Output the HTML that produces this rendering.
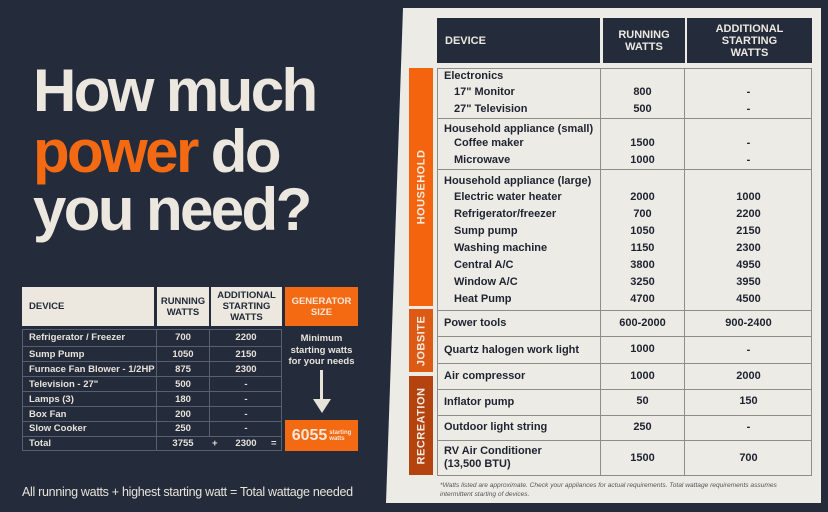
<!DOCTYPE html>
<html><head><meta charset="utf-8"><style>
*{margin:0;padding:0;box-sizing:border-box}
body{width:828px;height:512px;background:#242c3c;position:relative;overflow:hidden;font-family:"Liberation Sans",sans-serif}
.a{position:absolute}
.title{left:33px;font-size:60px;font-weight:bold;color:#ece8df;letter-spacing:-2.6px;line-height:60px}
.panel{left:380px;top:8px;width:441px;height:495px;background:#edebe5;clip-path:polygon(23px 0,441px 0,441px 495px,6px 495px)}
.rh{background:#242c3c;color:#ece8df;font-weight:bold;font-size:11px;display:flex;align-items:center;justify-content:center;text-align:center;line-height:12px}
.t{font-size:11px;font-weight:bold;color:#1e2330;white-space:nowrap}
.c{text-align:center}
.side{color:#f1e9de;font-weight:bold;font-size:11px;display:flex;align-items:center;justify-content:center}
.side span{transform:rotate(-90deg);white-space:nowrap;letter-spacing:.5px}
.lh{background:#ece8df;color:#222a38;font-weight:bold;font-size:9.5px;display:flex;align-items:center;justify-content:center;text-align:center;line-height:11px}
.lt{font-size:9.5px;font-weight:bold;color:#e7e3da;white-space:nowrap}
</style></head><body>
<div class="a title" style="top:61px">How much</div>
<div class="a title" style="top:122px"><span style="color:#f46a12">power</span> do</div>
<div class="a title" style="top:180px">you need?</div>

<!-- left table -->
<div class="a lh" style="left:22px;top:287px;width:132px;height:39px;justify-content:flex-start;padding-left:7px">DEVICE</div>
<div class="a lh" style="left:157px;top:287px;width:52px;height:39px">RUNNING<br>WATTS</div>
<div class="a lh" style="left:211px;top:287px;width:71px;height:39px">ADDITIONAL<br>STARTING<br>WATTS</div>
<div class="a lh" style="left:285px;top:287px;width:73px;height:39px;background:#f46a12;color:#f6e7da">GENERATOR<br>SIZE</div>
<div class="a" style="left:22px;top:329px;width:260px;height:122px;border:1px solid #56606f"></div>
<div class="a" style="left:156px;top:329px;width:1px;height:122px;background:#56606f"></div>
<div class="a" style="left:209px;top:329px;width:1px;height:107px;background:#56606f"></div>
<div class="a" style="left:22px;top:346px;width:260px;height:1px;background:#56606f"></div>
<div class="a" style="left:22px;top:361px;width:260px;height:1px;background:#56606f"></div>
<div class="a" style="left:22px;top:376px;width:260px;height:1px;background:#56606f"></div>
<div class="a" style="left:22px;top:391px;width:260px;height:1px;background:#56606f"></div>
<div class="a" style="left:22px;top:406px;width:260px;height:1px;background:#56606f"></div>
<div class="a" style="left:22px;top:421px;width:260px;height:1px;background:#56606f"></div>
<div class="a" style="left:22px;top:436px;width:260px;height:1px;background:#56606f"></div>
<div class="a lt" style="left:29px;top:332px">Refrigerator / Freezer</div><div class="a lt c" style="left:157px;width:52px;top:332px">700</div><div class="a lt c" style="left:210px;width:72px;top:332px">2200</div>
<div class="a lt" style="left:29px;top:349px">Sump Pump</div><div class="a lt c" style="left:157px;width:52px;top:349px">1050</div><div class="a lt c" style="left:210px;width:72px;top:349px">2150</div>
<div class="a lt" style="left:29px;top:364px">Furnace Fan Blower - 1/2HP</div><div class="a lt c" style="left:157px;width:52px;top:364px">875</div><div class="a lt c" style="left:210px;width:72px;top:364px">2300</div>
<div class="a lt" style="left:29px;top:379px">Television - 27"</div><div class="a lt c" style="left:157px;width:52px;top:379px">500</div><div class="a lt c" style="left:210px;width:72px;top:379px">-</div>
<div class="a lt" style="left:29px;top:394px">Lamps (3)</div><div class="a lt c" style="left:157px;width:52px;top:394px">180</div><div class="a lt c" style="left:210px;width:72px;top:394px">-</div>
<div class="a lt" style="left:29px;top:409px">Box Fan</div><div class="a lt c" style="left:157px;width:52px;top:409px">200</div><div class="a lt c" style="left:210px;width:72px;top:409px">-</div>
<div class="a lt" style="left:29px;top:423px">Slow Cooker</div><div class="a lt c" style="left:157px;width:52px;top:423px">250</div><div class="a lt c" style="left:210px;width:72px;top:423px">-</div>
<div class="a lt" style="left:29px;top:438px">Total</div><div class="a lt c" style="left:157px;width:52px;top:438px">3755</div><div class="a lt" style="left:212px;top:438px">+</div><div class="a lt c" style="left:210px;width:72px;top:438px">2300</div><div class="a lt" style="left:271px;top:438px">=</div>
<div class="a lt c" style="left:285px;width:73px;top:333px;line-height:11.5px;font-weight:bold;font-size:9.5px">Minimum<br>starting watts<br>for your needs</div>
<div class="a" style="left:320px;top:370px;width:3px;height:30px;background:#e7e3da"></div>
<div class="a" style="left:313px;top:399px;width:0;height:0;border-left:9px solid transparent;border-right:9px solid transparent;border-top:14px solid #e7e3da"></div>
<div class="a" style="left:285px;top:420px;width:73px;height:31px;background:#f46a12;color:#f6e7da;display:flex;align-items:center;justify-content:center;gap:2px"><b style="font-size:16px">6055</b><span style="font-size:6px;line-height:6px;font-weight:bold">starting<br>watts</span></div>
<div class="a" style="left:22px;top:485px;font-size:12.5px;color:#e7e3da;letter-spacing:-.3px">All running watts + highest starting watt = Total wattage needed</div>

<!-- right panel -->
<div class="a panel"></div>
<div class="a rh" style="left:437px;top:18px;width:163px;height:45px;justify-content:flex-start;padding-left:8px">DEVICE</div>
<div class="a rh" style="left:603px;top:18px;width:82px;height:45px">RUNNING<br>WATTS</div>
<div class="a rh" style="left:687px;top:18px;width:125px;height:45px">ADDITIONAL<br>STARTING<br>WATTS</div>

<div class="a side" style="left:409px;top:68px;width:24px;height:238px;background:#f4640f"><span>HOUSEHOLD</span></div>
<div class="a side" style="left:409px;top:309px;width:24px;height:63px;background:#dd5a14"><span>JOBSITE</span></div>
<div class="a side" style="left:409px;top:376px;width:24px;height:99px;background:#b4430f"><span>RECREATION</span></div>

<div class="a" style="left:437px;top:68px;width:375px;height:408px;border:1px solid #8f8d88"></div>
<div class="a" style="left:600px;top:68px;width:1px;height:408px;background:#8f8d88"></div>
<div class="a" style="left:684px;top:68px;width:1px;height:408px;background:#8f8d88"></div>
<div class="a" style="left:437px;top:118px;width:375px;height:1px;background:#8f8d88"></div>
<div class="a" style="left:437px;top:169px;width:375px;height:1px;background:#8f8d88"></div>
<div class="a" style="left:437px;top:310px;width:375px;height:1px;background:#8f8d88"></div>
<div class="a" style="left:437px;top:336px;width:375px;height:1px;background:#8f8d88"></div>
<div class="a" style="left:437px;top:363px;width:375px;height:1px;background:#8f8d88"></div>
<div class="a" style="left:437px;top:389px;width:375px;height:1px;background:#8f8d88"></div>
<div class="a" style="left:437px;top:415px;width:375px;height:1px;background:#8f8d88"></div>
<div class="a" style="left:437px;top:440px;width:375px;height:1px;background:#8f8d88"></div>

<div class="a t" style="left:444px;top:70px">Electronics</div>
<div class="a t" style="left:454px;top:86px">17" Monitor</div><div class="a t c" style="left:601px;width:83px;top:86px">800</div><div class="a t c" style="left:685px;width:127px;top:86px">-</div>
<div class="a t" style="left:454px;top:103px">27" Television</div><div class="a t c" style="left:601px;width:83px;top:103px">500</div><div class="a t c" style="left:685px;width:127px;top:103px">-</div>
<div class="a t" style="left:444px;top:123px">Household appliance (small)</div>
<div class="a t" style="left:454px;top:137px">Coffee maker</div><div class="a t c" style="left:601px;width:83px;top:137px">1500</div><div class="a t c" style="left:685px;width:127px;top:137px">-</div>
<div class="a t" style="left:454px;top:154px">Microwave</div><div class="a t c" style="left:601px;width:83px;top:154px">1000</div><div class="a t c" style="left:685px;width:127px;top:154px">-</div>
<div class="a t" style="left:444px;top:175px">Household appliance (large)</div>
<div class="a t" style="left:454px;top:191px">Electric water heater</div><div class="a t c" style="left:601px;width:83px;top:191px">2000</div><div class="a t c" style="left:685px;width:127px;top:191px">1000</div>
<div class="a t" style="left:454px;top:208px">Refrigerator/freezer</div><div class="a t c" style="left:601px;width:83px;top:208px">700</div><div class="a t c" style="left:685px;width:127px;top:208px">2200</div>
<div class="a t" style="left:454px;top:225px">Sump pump</div><div class="a t c" style="left:601px;width:83px;top:225px">1050</div><div class="a t c" style="left:685px;width:127px;top:225px">2150</div>
<div class="a t" style="left:454px;top:242px">Washing machine</div><div class="a t c" style="left:601px;width:83px;top:242px">1150</div><div class="a t c" style="left:685px;width:127px;top:242px">2300</div>
<div class="a t" style="left:454px;top:259px">Central A/C</div><div class="a t c" style="left:601px;width:83px;top:259px">3800</div><div class="a t c" style="left:685px;width:127px;top:259px">4950</div>
<div class="a t" style="left:454px;top:276px">Window A/C</div><div class="a t c" style="left:601px;width:83px;top:276px">3250</div><div class="a t c" style="left:685px;width:127px;top:276px">3950</div>
<div class="a t" style="left:454px;top:293px">Heat Pump</div><div class="a t c" style="left:601px;width:83px;top:293px">4700</div><div class="a t c" style="left:685px;width:127px;top:293px">4500</div>
<div class="a t" style="left:444px;top:317px">Power tools</div><div class="a t c" style="left:601px;width:83px;top:317px">600-2000</div><div class="a t c" style="left:685px;width:127px;top:317px">900-2400</div>
<div class="a t" style="left:444px;top:344px">Quartz halogen work light</div><div class="a t c" style="left:601px;width:83px;top:343px">1000</div><div class="a t c" style="left:685px;width:127px;top:344px">-</div>
<div class="a t" style="left:444px;top:370px">Air compressor</div><div class="a t c" style="left:601px;width:83px;top:370px">1000</div><div class="a t c" style="left:685px;width:127px;top:370px">2000</div>
<div class="a t" style="left:444px;top:396px">Inflator pump</div><div class="a t c" style="left:601px;width:83px;top:395px">50</div><div class="a t c" style="left:685px;width:127px;top:395px">150</div>
<div class="a t" style="left:444px;top:421px">Outdoor light string</div><div class="a t c" style="left:601px;width:83px;top:421px">250</div><div class="a t c" style="left:685px;width:127px;top:421px">-</div>
<div class="a t" style="left:444px;top:445px;line-height:13px">RV Air Conditioner<br>(13,500 BTU)</div><div class="a t c" style="left:601px;width:83px;top:452px">1500</div><div class="a t c" style="left:685px;width:127px;top:452px">700</div>
<div class="a" style="left:440px;top:481px;width:370px;font-size:6.6px;font-style:italic;color:#555;line-height:9px">*Watts listed are approximate. Check your appliances for actual requirements. Total wattage requirements assumes intermittent starting of devices.</div>
</body></html>
